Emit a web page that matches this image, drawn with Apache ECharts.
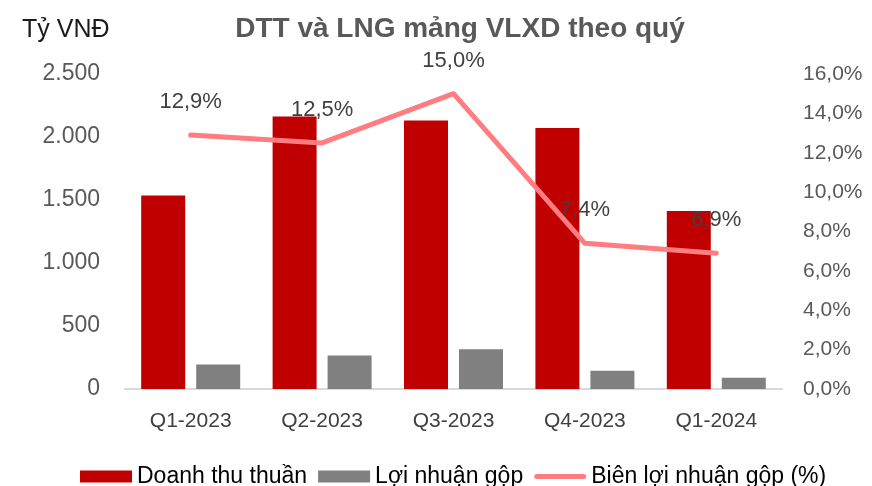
<!DOCTYPE html>
<html>
<head>
<meta charset="utf-8">
<script src="https://cdn.jsdelivr.net/npm/echarts@6/dist/echarts.min.js"></script>
<style>
  html, body { margin: 0; padding: 0; background: #fff; }
  #chart { width: 872px; height: 486px; }
</style>
</head>
<body>
<div id="chart"></div>
<script>
const quarters = ['Q1-2023', 'Q2-2023', 'Q3-2023', 'Q4-2023', 'Q1-2024']
const revenue = [1536, 2163, 2131, 2071, 1413]
const grossProfit = [194, 266, 316, 145, 90]
const grossMargin = [12.9, 12.5, 15.0, 7.4, 6.9]

const font = 'Liberation Sans, Arial, sans-serif'

let chart = echarts.init(document.getElementById('chart'))

const thousands = (v) => String(v).replace(/\B(?=(\d{3})+(?!\d))/g, '.')
const pct = (v) => v.toFixed(1).replace('.', ',') + '%'

chart.setOption({
  animation: false,
  title: [
    {
      text: 'DTT và LNG mảng VLXD theo quý',
      left: 455,
      textAlign: 'center',
      top: 10,
      textStyle: { fontFamily: font, fontSize: 28, fontWeight: 'bold', color: '#595959' }
    },
    {
      text: 'Tỷ VNĐ',
      left: 17,
      top: 13,
      textStyle: { fontFamily: font, fontSize: 25, fontWeight: 'normal', color: '#1a1a1a' }
    }
  ],
  grid: {
    left: 125,
    right: 90,
    top: 74,
    bottom: 97
  },
  legend: {
    left: 75,
    top: 460,
    itemWidth: 52,
    itemHeight: 12,
    itemGap: 11,
    textStyle: { fontFamily: font, fontSize: 23, color: '#000' },
    data: [
      { name: 'Doanh thu thuần', icon: 'rect' },
      { name: 'Lợi nhuận gộp', icon: 'rect' },
      { name: 'Biên lợi nhuận gộp (%)', icon: 'path://M2.5,0 L49.5,0 A2.5,2.5 0 0 1 49.5,5 L2.5,5 A2.5,2.5 0 0 1 2.5,0 Z' }
    ]
  },
  xAxis: {
    type: 'category',
    data: quarters,
    axisTick: { show: false },
    axisLine: { lineStyle: { color: '#d9d9d9', width: 2 } },
    axisLabel: { fontFamily: font, fontSize: 21, color: '#404040', margin: 22 }
  },
  yAxis: [
    {
      type: 'value',
      min: 0,
      max: 2500,
      interval: 500,
      splitLine: { show: false },
      axisLabel: { fontFamily: font, fontSize: 23, color: '#595959', margin: 25, formatter: thousands }
    },
    {
      type: 'value',
      min: 0,
      max: 16,
      interval: 2,
      splitLine: { show: false },
      axisLabel: { fontFamily: font, fontSize: 21, color: '#595959', margin: 21, formatter: pct }
    }
  ],
  series: [
    {
      name: 'Doanh thu thuần',
      type: 'bar',
      data: revenue,
      barWidth: 44,
      barGap: '25%',
      itemStyle: { color: '#c00000' }
    },
    {
      name: 'Lợi nhuận gộp',
      type: 'bar',
      data: grossProfit,
      barWidth: 44,
      itemStyle: { color: '#808080' }
    },
    {
      name: 'Biên lợi nhuận gộp (%)',
      type: 'line',
      yAxisIndex: 1,
      data: grossMargin,
      symbol: 'circle',
      symbolSize: 0,
      z: 5,
      itemStyle: { color: '#ff7c80' },
      lineStyle: { color: '#ff7c80', width: 5, cap: 'round', join: 'round' },
      label: {
        show: true,
        position: 'top',
        distance: 22,
        fontFamily: font,
        fontSize: 22,
        color: '#404040',
        formatter: (p) => pct(p.value)
      }
    }
  ]
})
</script>
</body>
</html>
